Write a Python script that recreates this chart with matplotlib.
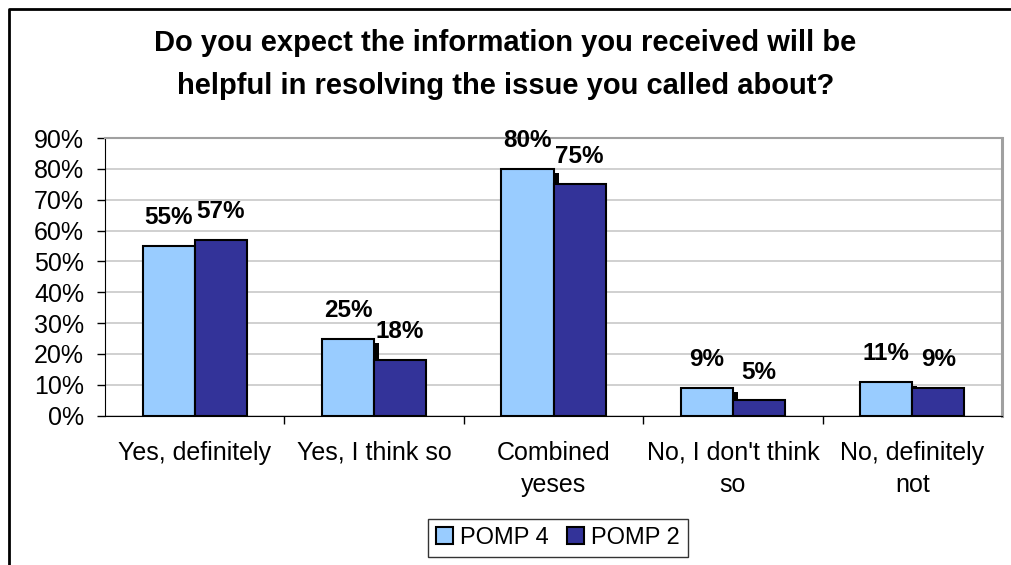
import numpy as np
import matplotlib.pyplot as plt
import matplotlib.transforms as mtransforms
from matplotlib.lines import Line2D

plt.rcParams['font.family'] = ['Liberation Sans', 'DejaVu Sans']

categories = ["Yes, definitely", "Yes, I think so", "Combined\nyeses",
              "No, I don't think\nso", "No, definitely\nnot"]
pomp4 = [55, 25, 80, 9, 11]
pomp2 = [57, 18, 75, 5, 9]
yticks = [0, 10, 20, 30, 40, 50, 60, 70, 80, 90]

light = "#99CCFF"
dark = "#333399"

fig = plt.figure(figsize=(10.11, 5.65), dpi=100)
ax = fig.add_axes([105/1011, 1-415.7/565, 897/1011, 277.7/565])

x = np.arange(len(categories))
w = 0.29

# shadow behind the light bars (offset right and down a few pixels)
shadow_tr = ax.transData + mtransforms.ScaledTranslation(5/100, -4/100, fig.dpi_scale_trans)
ax.bar(x - w/2, pomp4, w, color="black", zorder=2, transform=shadow_tr)

b1 = ax.bar(x - w/2, pomp4, w, color=light, edgecolor="black", linewidth=1.5,
            zorder=3, label="POMP 4")
b2 = ax.bar(x + w/2, pomp2, w, color=dark, edgecolor="black", linewidth=1.5,
            zorder=3, label="POMP 2")

for bars, vals in ((b1, pomp4), (b2, pomp2)):
    for rect, v in zip(bars, vals):
        ax.annotate(f"{v}%", (rect.get_x() + rect.get_width()/2, v),
                    xytext=(0, 12), textcoords="offset points",
                    ha="center", va="bottom", fontsize=17.5, fontweight="bold")

ax.set_xlim(-0.5, len(categories) - 0.5)
ax.set_ylim(0, 90)
ax.set_yticks(yticks)
ax.set_yticklabels([f"{t}%" for t in yticks], fontsize=18)
ax.yaxis.grid(True, color="#C8C8C8", linewidth=1.2, zorder=0)
ax.set_axisbelow(True)

ax.set_xticks(x)
ax.set_xticklabels(categories, fontsize=18, linespacing=1.45)
ax.tick_params(axis="x", length=0, pad=18)
ax.set_xticks(np.arange(len(categories) - 1) + 0.5, minor=True)
ax.tick_params(axis="x", which="minor", length=6, width=1, direction="out")
ax.tick_params(axis="y", length=6, width=1, direction="out", pad=9)

for side in ("top", "right"):
    ax.spines[side].set_color("#A0A0A0")
ax.spines["top"].set_linewidth(1.5)
ax.spines["right"].set_linewidth(2.2)
ax.spines["left"].set_color("black")
ax.spines["bottom"].set_color("black")

fig.suptitle("Do you expect the information you received will be\n"
             "helpful in resolving the issue you called about?",
             x=0.5, y=0.948, fontsize=21, fontweight="bold", linespacing=1.65)

leg = fig.legend(handles=[b1, b2], loc="center", bbox_to_anchor=(558/1011, 1-538/565),
                 ncol=2, fontsize=17, frameon=True, fancybox=False,
                 handlelength=0.7, handleheight=0.7, handletextpad=0.3,
                 columnspacing=0.8, borderpad=0.35)
leg.get_frame().set_edgecolor("black")
leg.get_frame().set_linewidth(1)

# outer chart border (top and left edges)
fig.add_artist(Line2D([9/1011, 9/1011, 1], [0, 1-9/565, 1-9/565],
                      transform=fig.transFigure, color="black", linewidth=2))

fig.savefig("out.png", dpi=100)
